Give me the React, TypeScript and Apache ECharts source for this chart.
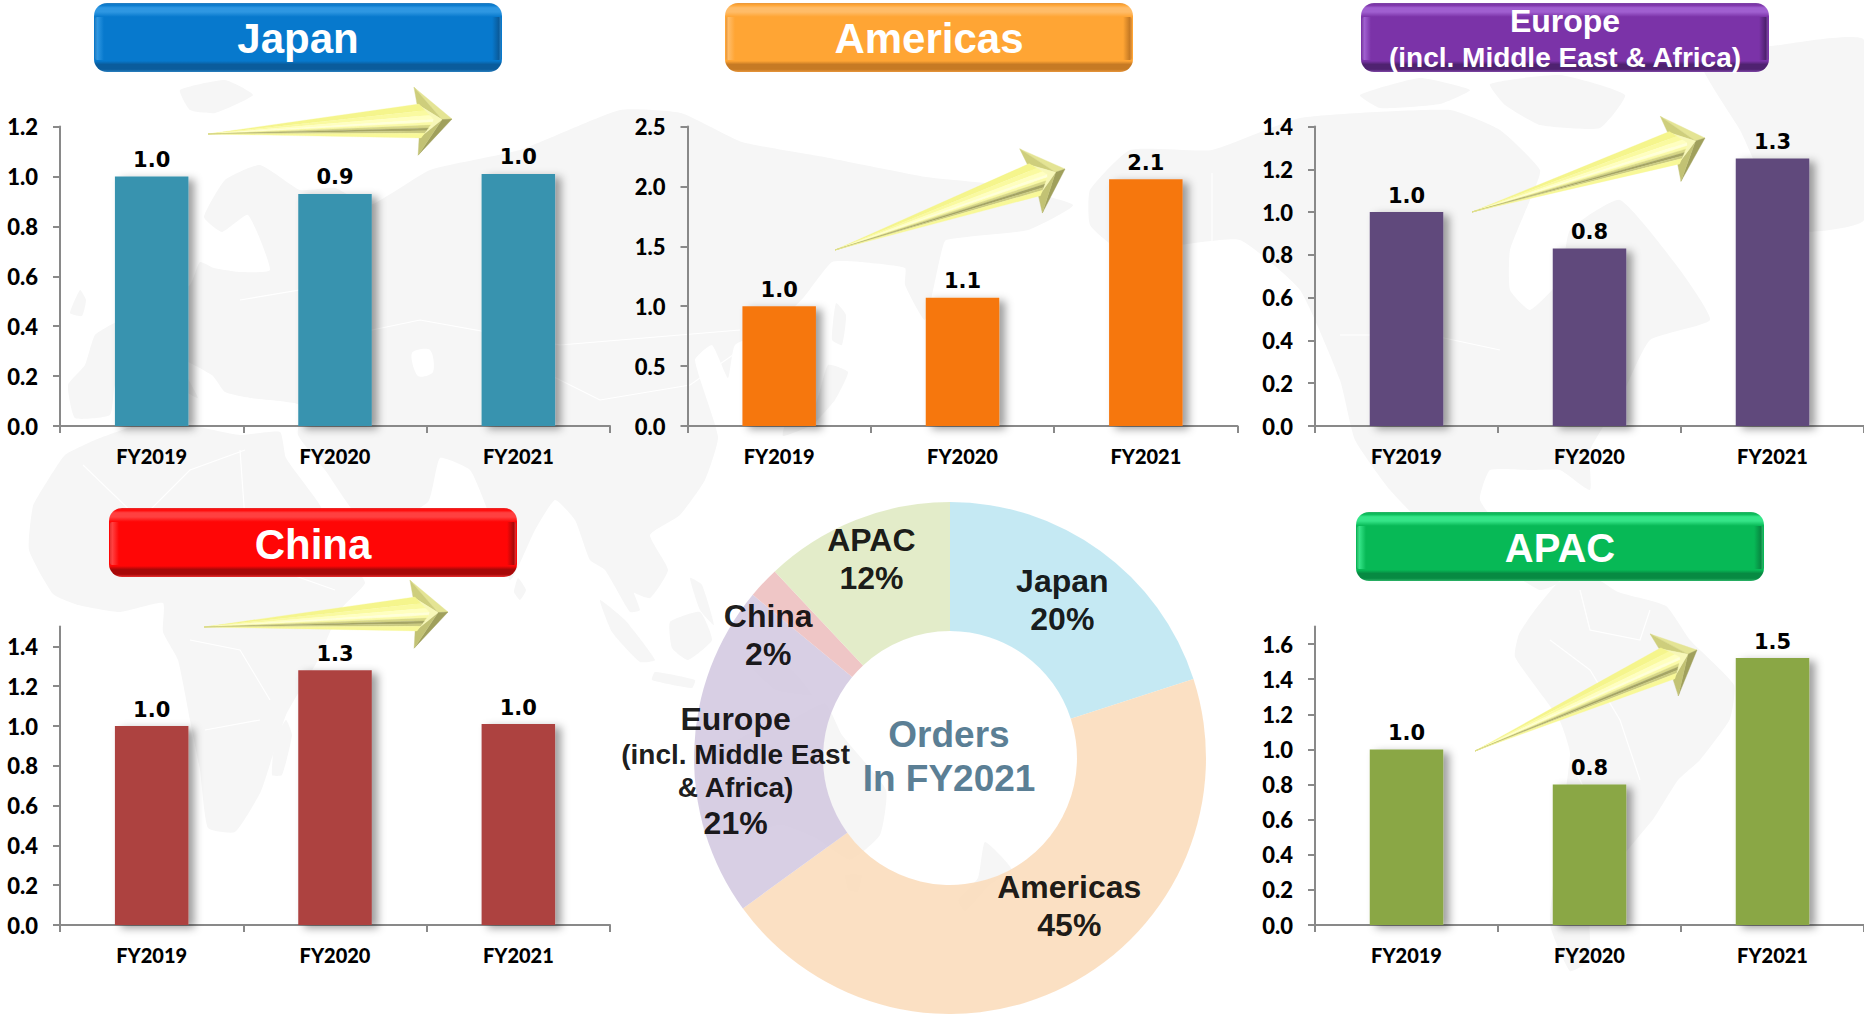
import React, { useEffect, useRef } from "react";
import * as echarts from "echarts";

// Orders by region, indexed to FY2019 = 1.0
const fiscalYears = ["FY2019", "FY2020", "FY2021"];
const japanOrders = [1.0, 0.93, 1.01];
const americasOrders = [1.0, 1.07, 2.06];
const europeOrders = [1.0, 0.83, 1.25];
const chinaOrders = [1.0, 1.28, 1.01];
const apacOrders = [1.0, 0.8, 1.52];

const japanTicks = [0, 0.2, 0.4, 0.6, 0.8, 1.0, 1.2];
const americasTicks = [0, 0.5, 1.0, 1.5, 2.0, 2.5];
const europeTicks = [0, 0.2, 0.4, 0.6, 0.8, 1.0, 1.2, 1.4];
const chinaTicks = [0, 0.2, 0.4, 0.6, 0.8, 1.0, 1.2, 1.4];
const apacTicks = [0, 0.2, 0.4, 0.6, 0.8, 1.0, 1.2, 1.4, 1.6];

// FY2021 share of orders, percent
const shareRegions = ["Japan", "Americas", "Europe", "China", "APAC"];
const shareValues = [20, 45, 21, 2, 12];

const TICK_FONT = "Lato";
const TITLE_FONT = "'Liberation Sans'";

const panels = [
  { values: japanOrders, ticks: japanTicks, max: 1.2, color: "#3993AF", left: 60, top: 126.5, width: 550, height: 299.5 },
  { values: americasOrders, ticks: americasTicks, max: 2.5, color: "#F67710", left: 687.5, top: 126.5, width: 550, height: 299.5 },
  { values: europeOrders, ticks: europeTicks, max: 1.4, color: "#604A7B", left: 1315, top: 126.5, width: 551, height: 299.5 },
  { values: chinaOrders, ticks: chinaTicks, max: 1.5, color: "#AD4240", left: 60, top: 626.5, width: 550, height: 298.5 },
  { values: apacOrders, ticks: apacTicks, max: 1.7, color: "#8AA744", left: 1315, top: 626.5, width: 551, height: 298.5 },
];

// Offsets from each slice's mid-radius point to where its caption sits
const shareLabelShift = [
  [-2, -1],
  [31, -25],
  [-20, 19],
  [-40, 10],
  [-7, -18],
];
const shareLabelText = [
  "{big|Japan}\n{big|20%}",
  "{big|Americas}\n{big|45%}",
  "{big|Europe}\n{small|(incl. Middle East}\n{small|& Africa)}\n{big|21%}",
  "{big|China}\n{big|2%}",
  "{big|APAC}\n{big|12%}",
];
const shareColors = ["#BFE7F2", "#FBDDBC", "#D4CAE1", "#EDC0C0", "#E0EAC3"];

const banners = [
  { x: 94, y: 3, w: 408, h: 69, main: "#0779CD", light: "#2E97E2", edge: "#2A7FBF", dark: "#0A5C9C", lines: [{ t: "Japan", s: 42, y: 38 }] },
  { x: 725, y: 3, w: 408, h: 69, main: "#FFA534", light: "#FFBC68", edge: "#E8963A", dark: "#C67A24", lines: [{ t: "Americas", s: 42, y: 38 }] },
  {
    x: 1361, y: 3, w: 408, h: 69, main: "#7B33A8", light: "#A05FD0", edge: "#7E45A6", dark: "#4F2270",
    lines: [{ t: "Europe", s: 32, y: 21 }, { t: "(incl. Middle East & Africa)", s: 28, y: 57 }],
  },
  { x: 109, y: 508, w: 408, h: 69, main: "#FF0606", light: "#FF4040", edge: "#E83030", dark: "#A80808", lines: [{ t: "China", s: 42, y: 544 }] },
  { x: 1356, y: 512, w: 408, h: 69, main: "#07B956", light: "#35E588", edge: "#2CB468", dark: "#078A42", lines: [{ t: "APAC", s: 40, y: 548 }] },
];

const arrows = [
  { tail: [208, 134], tip: [452, 119] },
  { tail: [835, 250], tip: [1065, 169] },
  { tail: [1472, 212], tip: [1705, 138] },
  { tail: [204, 627], tip: [448, 612] },
  { tail: [1475, 751], tip: [1697, 650] },
];

// Simplified Pacific-centred world outline drawn faintly behind everything
const landOutlines: number[][][] = [
  // Africa
  [[128, 428], [95, 440], [65, 455], [48, 480], [33, 506], [29, 550], [53, 594], [78, 605], [120, 612], [163, 603], [163, 632], [178, 660], [190, 720], [200, 770], [208, 828], [235, 832], [261, 791], [286, 715], [318, 660], [340, 610], [365, 583], [350, 560], [318, 502], [286, 458], [280, 432], [240, 435], [190, 425], [165, 420]],
  // Eurasia
  [[68, 385], [85, 365], [95, 335], [120, 320], [155, 305], [190, 285], [200, 262], [214, 268], [240, 272], [270, 270], [248, 215], [222, 232], [204, 217], [225, 180], [260, 165], [300, 190], [335, 188], [370, 205], [430, 170], [520, 150], [620, 110], [681, 113], [742, 142], [824, 157], [926, 177], [1000, 185], [1073, 205], [1028, 230], [946, 240], [940, 258], [925, 320], [905, 285], [905, 268], [860, 262], [832, 262], [804, 297], [770, 330], [735, 345], [728, 378], [712, 345], [695, 360], [718, 437], [705, 480], [680, 515], [650, 535], [668, 570], [650, 598], [630, 590], [622, 565], [640, 610], [630, 612], [605, 570], [590, 560], [575, 520], [555, 500], [535, 530], [510, 580], [486, 506], [470, 470], [440, 458], [428, 502], [370, 530], [325, 470], [298, 435], [300, 405], [250, 398], [225, 392], [212, 375], [178, 358], [198, 398], [180, 388], [155, 365], [130, 370], [115, 385], [110, 415], [75, 418]],
  // North America
  [[1090, 190], [1130, 150], [1212, 150], [1300, 118], [1450, 110], [1500, 130], [1540, 170], [1530, 200], [1510, 250], [1510, 290], [1530, 310], [1560, 280], [1570, 230], [1620, 200], [1680, 270], [1710, 320], [1650, 340], [1620, 400], [1590, 450], [1590, 490], [1560, 470], [1530, 470], [1490, 470], [1480, 500], [1510, 540], [1540, 560], [1559, 582], [1540, 590], [1490, 560], [1440, 540], [1390, 490], [1355, 440], [1340, 380], [1300, 290], [1240, 240], [1180, 245], [1120, 250], [1090, 225]],
  // South America
  [[1559, 582], [1590, 575], [1618, 592], [1666, 606], [1690, 640], [1734, 685], [1730, 719], [1700, 760], [1678, 780], [1654, 818], [1620, 860], [1590, 920], [1590, 960], [1570, 971], [1550, 924], [1560, 830], [1570, 753], [1559, 719], [1515, 657], [1519, 634], [1535, 610]],
  // Greenland
  [[1700, 60], [1780, 45], [1864, 40], [1864, 220], [1790, 230], [1740, 130]],
  // Arctic Canada
  [[1360, 95], [1420, 78], [1470, 90], [1440, 104], [1380, 108]],
  [[1490, 84], [1560, 75], [1625, 95], [1600, 128], [1540, 125], [1505, 105]],
  // Australia
  [[700, 770], [745, 735], [790, 720], [825, 703], [842, 735], [886, 790], [880, 835], [850, 860], [815, 838], [780, 825], [735, 840], [705, 835]],
  // Tasmania, New Zealand
  [[845, 875], [862, 875], [858, 892], [848, 890]],
  [[985, 842], [1012, 870], [990, 885], [965, 912], [958, 900], [978, 878]],
  // Japan
  [[836, 303], [846, 315], [842, 345], [832, 340]],
  [[828, 365], [848, 372], [835, 400], [812, 425], [783, 436], [785, 425], [815, 405]],
  // Indonesia, Philippines, Borneo, New Guinea
  [[600, 600], [625, 620], [655, 660], [640, 662], [612, 632]],
  [[655, 672], [695, 680], [692, 688], [652, 680]],
  [[670, 622], [700, 612], [712, 640], [688, 660], [672, 648]],
  [[690, 578], [702, 585], [714, 625], [700, 610]],
  [[745, 660], [790, 668], [812, 695], [775, 690]],
  // Britain, Madagascar, Sri Lanka, Svalbard
  [[70, 313], [80, 290], [86, 300], [82, 316]],
  [[275, 740], [286, 720], [292, 735], [282, 775], [272, 775]],
  [[518, 578], [526, 590], [520, 600], [514, 592]],
  [[180, 90], [225, 80], [253, 95], [215, 113], [190, 110]],
];
const seaOutlines: number[][][] = [
  [[300, 350], [345, 345], [370, 360], [340, 375], [305, 372]],
  [[412, 353], [430, 350], [433, 372], [418, 376]],
];
const borderLines: number[][][] = [
  [[83, 465], [140, 520], [190, 470], [245, 450]],
  [[240, 450], [245, 520], [300, 530]],
  [[130, 540], [190, 560], [250, 560], [335, 590]],
  [[190, 640], [240, 650], [270, 700]],
  [[205, 730], [260, 720]],
  [[1580, 590], [1590, 630], [1640, 640], [1650, 610]],
  [[1550, 640], [1590, 670], [1620, 720], [1640, 780]],
  [[1570, 760], [1600, 820], [1590, 900]],
  [[1212, 173], [1212, 247]],
  [[1340, 335], [1430, 335], [1500, 350]],
  [[520, 360], [600, 400], [690, 385], [740, 350]],
  [[300, 345], [420, 320], [560, 345], [740, 330]],
  [[240, 300], [300, 290], [300, 345]],
];

function regionGrid(p: (typeof panels)[number]) {
  return { left: p.left, top: p.top, width: p.width, height: p.height, containLabel: false };
}

function bevelledBanner(b: (typeof banners)[number]) {
  const body: any[] = [
    {
      type: "rect",
      z: 20,
      shape: { x: b.x, y: b.y, width: b.w, height: b.h, r: 13 },
      style: {
        fill: {
          type: "linear", x: 0, y: 0, x2: 0, y2: 1,
          colorStops: [
            { offset: 0, color: b.edge },
            { offset: 0.03, color: b.main },
            { offset: 0.07, color: b.light },
            { offset: 0.13, color: b.light },
            { offset: 0.2, color: b.main },
            { offset: 0.84, color: b.main },
            { offset: 0.89, color: b.dark },
            { offset: 0.96, color: b.dark },
            { offset: 1, color: b.edge },
          ],
        },
      },
    },
    {
      type: "rect",
      z: 21,
      shape: { x: b.x + 1, y: b.y + 14, width: b.w - 2, height: b.h - 26, r: 2 },
      style: {
        fill: {
          type: "linear", x: 0, y: 0, x2: 1, y2: 0,
          colorStops: [
            { offset: 0, color: b.edge },
            { offset: 0.006, color: b.light },
            { offset: 0.022, color: b.main },
            { offset: 0.978, color: b.main },
            { offset: 0.994, color: b.dark },
            { offset: 1, color: b.edge },
          ],
        },
      },
    },
  ];
  for (const line of b.lines) {
    body.push({
      type: "text",
      z: 22,
      x: b.x + b.w / 2,
      y: line.y,
      style: {
        text: line.t,
        fill: "#FFFFFF",
        font: `bold ${line.s}px ${TITLE_FONT}`,
        align: "center",
        verticalAlign: "middle",
      },
    });
  }
  return body;
}

function bevelledArrow(a: (typeof arrows)[number]) {
  const [tx, ty] = a.tail;
  const [px, py] = a.tip;
  const len = Math.hypot(px - tx, py - ty);
  const ux = (px - tx) / len;
  const uy = (py - ty) / len;
  const nx = -uy;
  const ny = ux;
  const headLen = 36;
  const headHalf = 34;
  const shaftHalf = 17;
  const at = (along: number, across: number) => [px - ux * along + nx * across, py - uy * along + ny * across];
  const barbTop = at(headLen, -headHalf);
  const barbBot = at(headLen, headHalf);
  const neckTop = at(headLen - 2, -shaftHalf);
  const neckBot = at(headLen - 2, shaftHalf);
  const inner = at(10, 0);
  const poly = (points: number[][], fill: string) => ({
    type: "polygon",
    z: 15,
    shape: { points },
    style: { fill, stroke: fill, lineWidth: 0.4 },
  });
  const parts: any[] = [
    poly([barbTop, at(0, 0), inner], "#E4E494"),
    poly([barbBot, at(0, 0), inner], "#A0A05C"),
    poly([barbTop, neckTop, inner], "#CECE7C"),
    poly([barbBot, neckBot, inner], "#C2C274"),
    poly([neckTop, neckBot, inner], "#F8F8B8"),
  ];
  // Bands running from the point of the tail to the neck give the rod its rounded shading
  const bands: [number, string][] = [
    [-1, "#F5F58C"],
    [-0.6, "#FAFAA0"],
    [-0.3, "#FFFFC0"],
    [-0.05, "#FFFFD8"],
    [0.12, "#FAFAA8"],
    [0.28, "#D8D888"],
    [0.44, "#A5A565"],
    [0.6, "#CBCB80"],
    [0.74, "#F8F898"],
  ];
  const reach = (f: number) => at(headLen - 4 - 14 * (1 - Math.abs(f)), shaftHalf * f);
  bands.forEach(([from, fill], i) => {
    const to = i + 1 < bands.length ? bands[i + 1][0] : 1;
    parts.push({
      type: "polygon",
      z: 16,
      shape: { points: [[tx, ty], reach(from), reach(to)] },
      style: { fill, stroke: fill, lineWidth: 0.3 },
    });
  });
  return parts;
}

export default function App() {
  const hostRef = useRef<HTMLDivElement>(null);

  useEffect(() => {
    const chart = echarts.init(hostRef.current as HTMLDivElement, undefined, { renderer: "svg" });

    const map: any[] = [
      ...landOutlines.map((points) => ({
        type: "polygon",
        z: 0,
        silent: true,
        shape: { points, smooth: 0.15 },
        style: { fill: "#F6F6F6" },
      })),
      ...seaOutlines.map((points) => ({
        type: "polygon",
        z: 0,
        silent: true,
        shape: { points, smooth: 0.3 },
        style: { fill: "#FFFFFF" },
      })),
      ...borderLines.map((points) => ({
        type: "polyline",
        z: 0,
        silent: true,
        shape: { points },
        style: { stroke: "#FFFFFF", lineWidth: 1.2, fill: "none" },
      })),
    ];

    const centerCaption = [
      { t: "Orders", y: 734 },
      { t: "In FY2021", y: 778 },
    ].map((line) => ({
      type: "text",
      z: 12,
      x: 949,
      y: line.y,
      style: {
        text: line.t,
        fill: "#5B7F95",
        font: `bold 37px ${TITLE_FONT}`,
        align: "center",
        verticalAlign: "middle",
      },
    }));

    chart.setOption({
      animation: false,
      backgroundColor: "#FFFFFF",
      grid: panels.map(regionGrid),
      xAxis: panels.map((_, i) => ({
        type: "category",
        gridIndex: i,
        data: fiscalYears,
        axisLine: { lineStyle: { color: "#898989", width: 2 } },
        axisTick: { show: true, length: 7, lineStyle: { color: "#898989", width: 2 } },
        axisLabel: { color: "#000", fontFamily: TICK_FONT, fontWeight: 900, fontSize: 20, margin: 20 },
      })),
      yAxis: panels.map((p, i) => ({
        type: "value",
        gridIndex: i,
        min: 0,
        max: p.max,
        splitLine: { show: false },
        axisLine: { show: true, lineStyle: { color: "#898989", width: 2 } },
        axisTick: { show: true, length: 7, customValues: p.ticks, lineStyle: { color: "#898989", width: 2 } },
        axisLabel: {
          color: "#000",
          fontFamily: TICK_FONT,
          fontWeight: 900,
          fontSize: 22,
          margin: 22,
          customValues: p.ticks,
          formatter: (v: number) => v.toFixed(1),
        },
      })),
      graphic: { elements: [...map, ...banners.flatMap(bevelledBanner), ...arrows.flatMap(bevelledArrow), ...centerCaption] },
      series: [
        ...panels.map((p, i) => ({
          type: "bar",
          xAxisIndex: i,
          yAxisIndex: i,
          z: 5,
          barWidth: 73.5,
          data: p.values,
          itemStyle: {
            color: p.color,
            shadowColor: "rgba(0,0,0,0.38)",
            shadowBlur: 9,
            shadowOffsetX: 6,
            shadowOffsetY: 3,
          },
          label: {
            show: true,
            position: "top",
            distance: 6,
            color: "#000",
            fontFamily: "'DejaVu Sans'",
            fontWeight: "bold",
            fontSize: 21,
            formatter: (params: any) => Number(params.value).toFixed(1),
          },
        })),
        {
          type: "pie",
          z: 3,
          center: [950, 758],
          radius: [127, 256],
          startAngle: 90,
          clockwise: true,
          avoidLabelOverlap: false,
          data: shareRegions.map((name, i) => ({
            name,
            value: shareValues[i],
            itemStyle: { color: shareColors[i], opacity: 0.9 },
            label: { formatter: shareLabelText[i] },
          })),
          itemStyle: { borderWidth: 0 },
          labelLine: { show: false },
          label: {
            show: true,
            position: "inside",
            color: "#000",
            align: "center",
            rich: {
              big: { fontFamily: TITLE_FONT, fontWeight: "bold", fontSize: 32, color: "#000", lineHeight: 38, align: "center" },
              small: { fontFamily: TITLE_FONT, fontWeight: "bold", fontSize: 28, color: "#000", lineHeight: 33, align: "center" },
            },
          },
          labelLayout: (params: any) => ({
            dx: shareLabelShift[params.dataIndex][0],
            dy: shareLabelShift[params.dataIndex][1],
          }),
          emphasis: { disabled: true },
        },
      ],
    });

    return () => chart.dispose();
  }, []);

  return <div ref={hostRef} style={{ position: "fixed", left: 0, top: 0, width: 1864, height: 1014, background: "#fff" }} />;
}
